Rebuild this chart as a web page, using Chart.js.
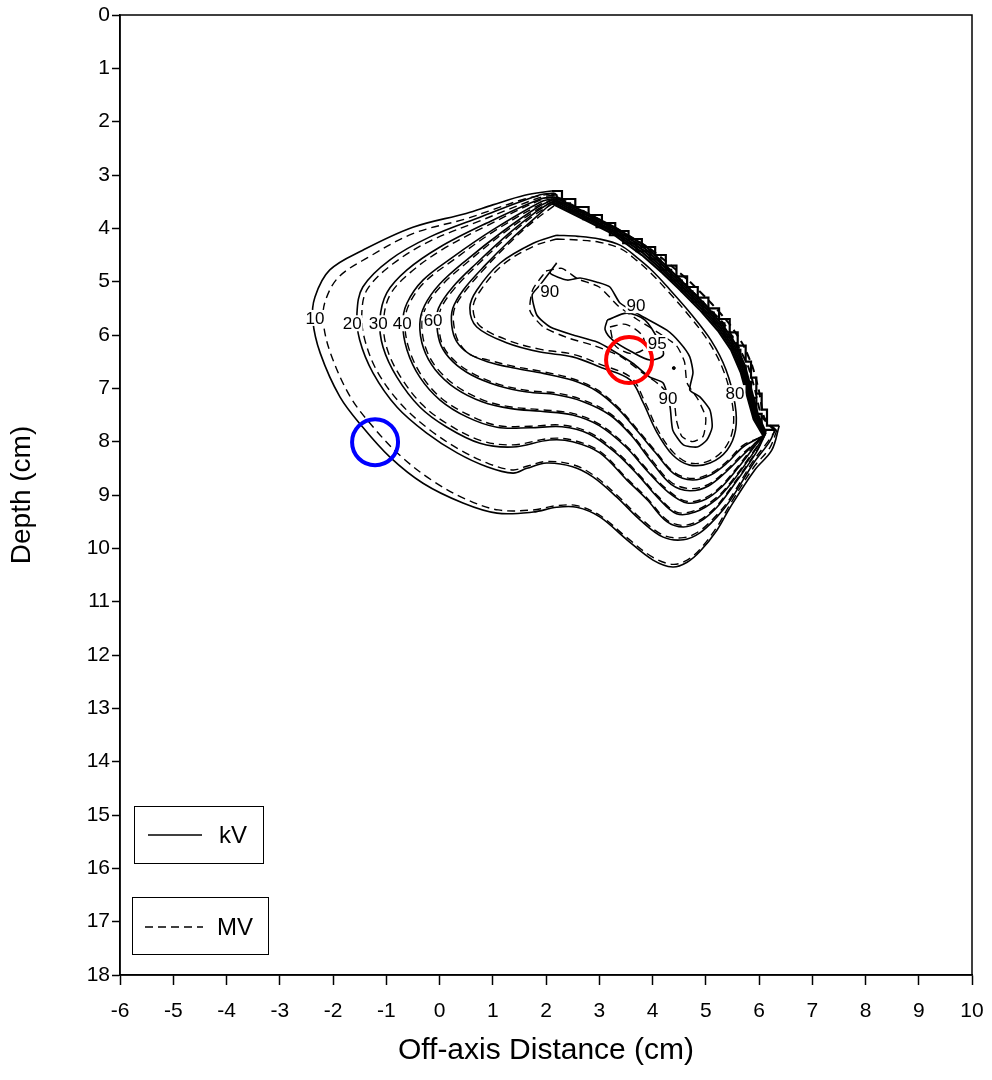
<!DOCTYPE html>
<html>
<head>
<meta charset="utf-8">
<title>Depth dose contours</title>
<script src="https://cdn.jsdelivr.net/npm/chart.js@4.4.0/dist/chart.umd.min.js"></script>
<style>
  html, body { margin: 0; background: #fff; overflow: hidden; }
  #chart { display: block; margin-top: -12px; }
</style>
</head>
<body>
<canvas id="chart" width="999" height="1092"></canvas>
<script>
// axis ticks
let xTicks = [-6, -5, -4, -3, -2, -1, 0, 1, 2, 3, 4, 5, 6, 7, 8, 9, 10];
let yTicks = [0, 1, 2, 3, 4, 5, 6, 7, 8, 9, 10, 11, 12, 13, 14, 15, 16, 17, 18];

// kV isodose lines, [off-axis cm, depth cm]
// outer part: from the top junction round the left side to the lower right corner
let kv10 = [[2.1,3.3],[1.6,3.38],[1.0,3.56],[0.5,3.72],[-0.5,3.98],[-1.44,4.41],[-2.06,4.78],[-2.34,5.29],[-2.38,5.72],[-2.24,6.34],[-1.87,7.16],[-1.44,7.73],[-0.93,8.29],[-0.31,8.78],[0.44,9.15],[1.08,9.34],[1.76,9.32],[2.2,9.23],[2.58,9.23],[3.01,9.41],[3.52,9.84],[4.01,10.22],[4.38,10.35],[4.65,10.26],[4.89,10.06],[5.21,9.66],[5.46,9.23],[5.92,8.53],[6.24,8.16],[6.38,7.7]];
let kv20 = [[2.15,3.34],[1.89,3.37],[0.76,3.79],[-0.18,4.16],[-0.93,4.59],[-1.44,5.1],[-1.55,5.59],[-1.5,6.09],[-1.25,6.71],[-0.8,7.35],[-0.24,7.84],[0.33,8.21],[0.89,8.47],[1.38,8.59],[1.64,8.5],[2.01,8.4],[2.5,8.47],[2.88,8.66],[3.33,9.04],[3.77,9.47],[4.2,9.79],[4.58,9.84],[4.89,9.71],[5.21,9.41],[5.46,9.1],[5.9,8.4],[6.2,8.0],[6.3,7.78]];
let kv30 = [[2.14,3.41],[1.89,3.45],[0.89,3.9],[0.01,4.35],[-0.61,4.78],[-0.99,5.21],[-1.12,5.72],[-1.06,6.23],[-0.8,6.79],[-0.37,7.35],[0.14,7.73],[0.76,8.03],[1.38,8.1],[2.07,7.97],[2.5,8.0],[3.01,8.21],[3.52,8.72],[3.9,9.09],[4.27,9.5],[4.58,9.6],[4.89,9.5],[5.21,9.23],[5.5,8.85],[5.95,8.2],[6.13,7.83]];
let kv40 = [[2.13,3.44],[1.89,3.51],[1.0,4.03],[0.25,4.54],[-0.31,4.97],[-0.61,5.4],[-0.69,5.78],[-0.61,6.28],[-0.37,6.79],[0.01,7.22],[0.52,7.54],[1.08,7.73],[1.7,7.74],[2.3,7.72],[2.8,7.85],[3.3,8.2],[3.75,8.65],[4.1,9.05],[4.45,9.35],[4.8,9.32],[5.2,9.08],[5.5,8.75],[5.9,8.2],[6.12,7.85]];
let kv50 = [[2.12,3.47],[1.85,3.6],[1.2,4.05],[0.5,4.6],[0.0,5.05],[-0.28,5.45],[-0.37,5.8],[-0.3,6.25],[-0.08,6.65],[0.3,7.0],[0.8,7.25],[1.35,7.38],[1.9,7.43],[2.5,7.5],[3.0,7.7],[3.5,8.1],[3.9,8.55],[4.3,8.95],[4.65,9.15],[5.0,9.08],[5.3,8.85],[5.6,8.5],[5.95,8.05],[6.11,7.86]];
let kv60 = [[2.11,3.5],[1.8,3.7],[1.3,4.1],[0.7,4.65],[0.25,5.1],[-0.02,5.5],[-0.05,5.82],[0.03,6.2],[0.25,6.5],[0.6,6.75],[1.1,6.95],[1.65,7.07],[2.2,7.12],[2.7,7.25],[3.2,7.5],[3.6,7.88],[4.0,8.4],[4.35,8.8],[4.7,8.92],[5.05,8.83],[5.4,8.55],[5.7,8.25],[6.1,7.87]];
let kv70 = [[2.1,3.53],[1.8,3.8],[1.35,4.2],[0.85,4.7],[0.45,5.15],[0.25,5.5],[0.23,5.82],[0.32,6.12],[0.55,6.35],[0.9,6.5],[1.4,6.62],[1.95,6.72],[2.5,6.85],[2.95,7.05],[3.35,7.38],[3.7,7.78],[4.05,8.2],[4.4,8.6],[4.75,8.72],[5.1,8.62],[5.4,8.4],[5.7,8.1],[6.08,7.89]];

// upper right edge (field edge) where the lines crowd, from lower right corner back to the top
let band10 = [[6.38,7.7],[6.15,7.7],[6.15,7.4],[6.05,7.4],[6.05,7.1],[5.95,7.1],[5.95,6.8],[5.85,6.8],[5.85,6.5],[5.75,6.5],[5.75,6.2],[5.6,6.2],[5.6,5.95],[5.45,5.95],[5.45,5.7],[5.25,5.7],[5.25,5.5],[5.05,5.5],[5.05,5.3],[4.85,5.3],[4.85,5.1],[4.65,5.1],[4.65,4.9],[4.45,4.9],[4.45,4.7],[4.25,4.7],[4.25,4.5],[4.05,4.5],[4.05,4.35],[3.8,4.35],[3.8,4.2],[3.55,4.2],[3.55,4.05],[3.3,4.05],[3.3,3.9],[3.05,3.9],[3.05,3.75],[2.8,3.75],[2.8,3.6],[2.55,3.6],[2.55,3.45],[2.3,3.45],[2.3,3.3],[2.1,3.3]];
let band20 = [[6.3,7.78],[6.05,7.78],[6.05,7.48],[5.95,7.48],[5.95,7.18],[5.85,7.18],[5.85,6.88],[5.75,6.88],[5.75,6.58],[5.65,6.58],[5.65,6.28],[5.5,6.28],[5.5,6.03],[5.35,6.03],[5.35,5.78],[5.15,5.78],[5.15,5.58],[4.95,5.58],[4.95,5.38],[4.75,5.38],[4.75,5.18],[4.55,5.18],[4.55,4.98],[4.35,4.98],[4.35,4.78],[4.15,4.78],[4.15,4.58],[3.95,4.58],[3.95,4.43],[3.7,4.43],[3.7,4.28],[3.45,4.28],[3.45,4.13],[3.2,4.13],[3.2,3.98],[2.95,3.98],[2.95,3.83],[2.7,3.83],[2.7,3.68],[2.45,3.68],[2.45,3.53],[2.2,3.53],[2.2,3.38],[2.15,3.34]];
let band30 = [[6.13,7.83],[5.98,7.49],[5.86,7.04],[5.74,6.59],[5.56,6.17],[5.31,5.8],[4.96,5.4],[4.56,5.0],[4.27,4.72],[3.88,4.34],[3.29,3.98],[2.69,3.68],[2.14,3.41]];
let band40 = [[6.12,7.85],[5.96,7.51],[5.84,7.07],[5.72,6.62],[5.54,6.2],[5.29,5.83],[4.94,5.43],[4.54,5.03],[4.25,4.75],[3.86,4.38],[3.28,4.01],[2.68,3.71],[2.13,3.44]];
let band50 = [[6.11,7.86],[5.94,7.53],[5.82,7.09],[5.7,6.65],[5.52,6.23],[5.27,5.86],[4.92,5.46],[4.52,5.06],[4.23,4.78],[3.84,4.42],[3.27,4.04],[2.67,3.74],[2.12,3.47]];
let band60 = [[6.1,7.87],[5.92,7.56],[5.8,7.12],[5.68,6.68],[5.5,6.26],[5.25,5.89],[4.9,5.49],[4.5,5.09],[4.21,4.81],[3.82,4.46],[3.26,4.07],[2.66,3.77],[2.11,3.5]];
let band70 = [[6.08,7.89],[5.9,7.58],[5.78,7.15],[5.66,6.71],[5.48,6.29],[5.23,5.92],[4.88,5.52],[4.48,5.12],[4.19,4.84],[3.8,4.5],[3.25,4.1],[2.65,3.8],[2.1,3.53]];

// closed kV loops
let kv80 = [[2.2,4.13],[2.6,4.15],[3.0,4.2],[3.4,4.32],[3.71,4.55],[4.0,4.8],[4.3,5.12],[4.72,5.6],[5.1,6.1],[5.38,6.65],[5.55,7.3],[5.56,7.78],[5.4,8.16],[5.08,8.4],[4.7,8.44],[4.38,8.25],[4.08,7.82],[3.82,7.26],[3.58,6.84],[3.01,6.6],[2.5,6.41],[1.89,6.32],[1.27,6.15],[0.7,5.85],[0.57,5.49],[0.7,5.16],[1.14,4.65],[1.76,4.28],[2.2,4.13]];
let kv90 = [[2.2,4.65],[2.08,4.84],[2.4,4.97],[2.64,4.93],[2.96,5.01],[3.2,5.1],[3.39,5.4],[3.77,5.63],[4.27,5.91],[4.52,6.15],[4.7,6.41],[4.76,6.71],[4.7,7.03],[4.89,7.16],[5.08,7.41],[5.12,7.73],[5.02,7.97],[4.84,8.1],[4.58,8.06],[4.38,7.78],[4.33,7.35],[4.2,6.9],[3.95,6.79],[3.63,6.53],[3.15,6.23],[2.96,6.13],[2.51,6.0],[2.08,5.85],[1.83,5.63],[1.74,5.25],[1.89,5.06],[2.2,4.65]];
let kv95 = [[3.15,5.72],[3.52,5.59],[3.86,5.72],[4.14,6.15],[4.2,6.38],[3.95,6.47],[3.6,6.31],[3.26,6.1],[3.11,5.9],[3.15,5.72]];
let kv95dot = [[4.4,6.62]];

// MV isodose lines
let mv10 = [[2.1,3.35],[1.6,3.45],[1.0,3.65],[0.5,3.82],[-0.5,4.1],[-1.35,4.55],[-1.9,4.92],[-2.15,5.38],[-2.18,5.78],[-2.04,6.36],[-1.68,7.15],[-1.25,7.72],[-0.75,8.25],[-0.15,8.72],[0.5,9.08],[1.1,9.28],[1.76,9.28],[2.2,9.2],[2.58,9.2],[3.01,9.38],[3.52,9.8],[4.01,10.17],[4.38,10.3],[4.65,10.22],[4.89,10.02],[5.21,9.6],[5.46,9.17],[5.9,8.48],[6.2,8.12],[6.33,7.8]];
let mvBand10 = [[6.33,7.8],[6.1,7.55],[6.0,7.05],[5.88,6.6],[5.7,6.18],[5.45,5.8],[5.1,5.4],[4.7,5.0],[4.35,4.7],[3.95,4.38],[3.35,4.02],[2.75,3.7],[2.1,3.35]];
let mv20 = [[2.15,3.38],[1.89,3.42],[0.76,3.86],[-0.18,4.24],[-0.88,4.67],[-1.36,5.15],[-1.46,5.62],[-1.4,6.1],[-1.16,6.7],[-0.72,7.3],[-0.18,7.78],[0.38,8.15],[0.92,8.41],[1.38,8.53],[1.64,8.46],[2.01,8.37],[2.5,8.43],[2.88,8.62],[3.33,9.0],[3.77,9.43],[4.2,9.75],[4.58,9.8],[4.89,9.67],[5.21,9.37],[5.46,9.06],[5.88,8.38],[6.18,7.98],[6.3,7.8]];
let mvBand20 = [[6.3,7.8],[6.05,7.52],[5.93,7.05],[5.8,6.6],[5.6,6.2],[5.35,5.8],[4.98,5.42],[4.62,5.05],[4.3,4.76],[3.9,4.42],[3.3,4.0],[2.7,3.7],[2.15,3.38]];
let mv30 = [[2.15,3.41],[1.89,3.47],[0.89,3.95],[0.05,4.4],[-0.55,4.83],[-0.93,5.25],[-1.05,5.74],[-0.99,6.24],[-0.74,6.77],[-0.32,7.31],[0.17,7.68],[0.78,7.98],[1.38,8.06],[2.07,7.94],[2.5,7.97],[3.01,8.18],[3.52,8.69],[3.9,9.06],[4.27,9.47],[4.58,9.57],[4.89,9.47],[5.21,9.2],[5.5,8.82],[5.95,8.18],[6.13,7.84]];
let mv40 = [[2.15,3.45],[1.89,3.55],[1.0,4.07],[0.28,4.58],[-0.27,5.0],[-0.57,5.42],[-0.65,5.78],[-0.57,6.27],[-0.33,6.77],[0.04,7.19],[0.55,7.5],[1.1,7.7],[1.7,7.71],[2.3,7.69],[2.8,7.82],[3.3,8.17],[3.75,8.62],[4.1,9.02],[4.45,9.32],[4.8,9.29],[5.2,9.05],[5.5,8.72],[5.9,8.18],[6.12,7.86]];
let mv50 = [[2.15,3.49],[1.85,3.64],[1.2,4.09],[0.53,4.63],[0.03,5.08],[-0.25,5.47],[-0.33,5.8],[-0.26,6.24],[-0.05,6.62],[0.32,6.96],[0.82,7.22],[1.35,7.35],[1.9,7.4],[2.5,7.47],[3.0,7.67],[3.5,8.07],[3.9,8.52],[4.3,8.92],[4.65,9.12],[5.0,9.05],[5.3,8.82],[5.6,8.47],[5.95,8.02],[6.11,7.87]];
let mv60 = [[2.15,3.53],[1.8,3.74],[1.3,4.14],[0.72,4.68],[0.28,5.13],[0.02,5.52],[-0.01,5.83],[0.06,6.19],[0.28,6.48],[0.62,6.72],[1.1,6.92],[1.65,7.04],[2.2,7.09],[2.7,7.22],[3.2,7.47],[3.6,7.85],[4.0,8.36],[4.35,8.76],[4.7,8.88],[5.05,8.8],[5.4,8.52],[5.7,8.22],[6.1,7.88]];
let mv70 = [[2.15,3.58],[1.8,3.84],[1.35,4.24],[0.87,4.73],[0.48,5.18],[0.28,5.51],[0.27,5.82],[0.36,6.13],[0.58,6.37],[0.92,6.47],[1.4,6.59],[1.95,6.69],[2.5,6.82],[2.95,7.02],[3.35,7.35],[3.7,7.75],[4.05,8.17],[4.4,8.57],[4.75,8.69],[5.1,8.59],[5.4,8.37],[5.7,8.07],[6.08,7.9]];
let mv80 = [[2.2,4.2],[2.6,4.22],[3.0,4.26],[3.4,4.38],[3.7,4.6],[3.98,4.85],[4.28,5.17],[4.68,5.63],[5.05,6.12],[5.33,6.66],[5.5,7.3],[5.51,7.76],[5.36,8.12],[5.06,8.36],[4.7,8.4],[4.4,8.21],[4.11,7.8],[3.85,7.24],[3.6,6.8],[3.02,6.55],[2.5,6.36],[1.9,6.27],[1.29,6.1],[0.75,5.82],[0.63,5.49],[0.76,5.18],[1.18,4.69],[1.78,4.33],[2.2,4.2]];
let mv90 = [[2.0,4.8],[2.3,4.75],[2.6,4.95],[3.0,5.1],[3.35,5.45],[3.7,5.7],[4.1,5.95],[4.45,6.2],[4.6,6.5],[4.65,6.9],[4.85,7.2],[5.0,7.55],[4.95,7.9],[4.75,8.0],[4.55,7.9],[4.45,7.6],[4.4,7.25],[4.15,6.95],[3.8,6.7],[3.4,6.4],[2.9,6.2],[2.4,6.05],[1.95,5.85],[1.7,5.55],[1.75,5.15],[2.0,4.8]];
let mv95 = [[3.2,5.85],[3.5,5.8],[3.8,6.0],[3.85,6.25],[3.6,6.35],[3.3,6.2],[3.2,5.85]];

// contour labels
let labelText = ['10', '20', '30', '40', '60', '90', '90', '95', '90', '80'];
let labelX = [-2.34, -1.64, -1.15, -0.7, -0.12, 2.07, 3.69, 4.09, 4.29, 5.55];
let labelY = [5.68, 5.78, 5.78, 5.78, 5.72, 5.19, 5.44, 6.15, 7.18, 7.09];

// circled spots
let redSpot = [[3.56, 6.47]];
let blueSpot = [[-1.21, 8.01]];

function pts(arr){
    return arr.map(p => ({x: p[0], y: p[1]}));
}

function line(arr, dashed, tension, width){
    return {
        data: pts(arr),
        showLine: true,
        borderColor: '#000',
        borderWidth: width || (dashed ? 1.4 : 1.6),
        borderDash: dashed ? [8, 5] : [],
        pointRadius: 0,
        tension: tension,
        fill: false
    };
}

function spot(arr, color){
    return {
        data: pts(arr),
        showLine: false,
        pointStyle: 'circle',
        pointRadius: 23,
        pointHoverRadius: 23,
        pointBorderWidth: 4,
        pointBorderColor: color,
        pointBackgroundColor: 'rgba(0,0,0,0)'
    };
}

let datasets = [];
datasets.push(spot(redSpot, '#ff0000'));
datasets.push(spot(blueSpot, '#0000ff'));

// kV solid
let kvOuter = [kv10, kv20, kv30, kv40, kv50, kv60, kv70];
let kvBand = [band10, band20, band30, band40, band50, band60, band70];
for(let i = 0; i < kvOuter.length; i++){
    datasets.push(line(kvOuter[i], false, 0.35));
    datasets.push(line(kvBand[i], false, 0, 2.2));
}
datasets.push(line(kv80, false, 0.35));
datasets.push(line(kv90, false, 0.2));
datasets.push(line(kv95, false, 0.3));
datasets.push({
    data: pts(kv95dot), showLine: false, pointRadius: 1.5,
    pointBackgroundColor: '#000', pointBorderColor: '#000'
});

// MV dashed
let mvOuter = [mv10, mv20, mv30, mv40, mv50, mv60, mv70];
for(let i = 0; i < mvOuter.length; i++){
    datasets.push(line(mvOuter[i], true, 0.35));
}
datasets.push(line(mvBand10, true, 0.2, 2));
datasets.push(line(mvBand20, true, 0.2, 2));
datasets.push(line(mv80, true, 0.35));
datasets.push(line(mv90, true, 0.2));
datasets.push(line(mv95, true, 0.3));

let fontFamily = 'Arial, "Liberation Sans", sans-serif';

// frame round the plot area
let framePlugin = {
    id: 'frame',
    afterDraw(chart){
        let a = chart.chartArea;
        let ctx = chart.ctx;
        ctx.save();
        ctx.strokeStyle = '#000';
        ctx.lineWidth = 1.5;
        ctx.strokeRect(a.left, a.top, a.right - a.left, a.bottom - a.top);
        ctx.restore();
    }
};

// contour value labels on a white patch
let labelPlugin = {
    id: 'contourLabels',
    afterDatasetsDraw(chart){
        let ctx = chart.ctx;
        let xs = chart.scales.x;
        let ys = chart.scales.y;
        ctx.save();
        ctx.font = '17px ' + fontFamily;
        ctx.textAlign = 'center';
        ctx.textBaseline = 'middle';
        for(let i = 0; i < labelText.length; i++){
            let px = xs.getPixelForValue(labelX[i]);
            let py = ys.getPixelForValue(labelY[i]);
            let w = ctx.measureText(labelText[i]).width;
            ctx.fillStyle = '#fff';
            ctx.fillRect(px - w / 2 - 1, py - 8, w + 2, 16);
            ctx.fillStyle = '#000';
            ctx.fillText(labelText[i], px, py + 1);
        }
        ctx.restore();
    }
};

// the two boxed legend entries in the lower left
let legendPlugin = {
    id: 'boxLegend',
    afterDraw(chart){
        let a = chart.chartArea;
        let ctx = chart.ctx;
        ctx.save();
        ctx.strokeStyle = '#000';
        ctx.lineWidth = 1;
        ctx.strokeRect(a.left + 14.5, a.bottom - 168.5, 129, 57);
        ctx.strokeRect(a.left + 12.5, a.bottom - 77.5, 136, 57);

        ctx.lineWidth = 1.5;
        ctx.beginPath();
        ctx.moveTo(a.left + 28, a.bottom - 140);
        ctx.lineTo(a.left + 82, a.bottom - 140);
        ctx.stroke();

        ctx.setLineDash([8, 5]);
        ctx.beginPath();
        ctx.moveTo(a.left + 25, a.bottom - 48);
        ctx.lineTo(a.left + 83, a.bottom - 48);
        ctx.stroke();
        ctx.setLineDash([]);

        ctx.fillStyle = '#000';
        ctx.font = '24px ' + fontFamily;
        ctx.textBaseline = 'middle';
        ctx.fillText('kV', a.left + 99, a.bottom - 139);
        ctx.fillText('MV', a.left + 97, a.bottom - 47);
        ctx.restore();
    }
};

let ctx = document.getElementById('chart');
new Chart(ctx, {
    type: 'scatter',
    data: { datasets: datasets },
    options: {
        responsive: false,
        animation: false,
        layout: { padding: { top: 15, right: 20, bottom: 9, left: 0 } },
        plugins: {
            legend: { display: false },
            tooltip: { enabled: false }
        },
        scales: {
            x: {
                type: 'linear',
                min: xTicks[0],
                max: xTicks[xTicks.length - 1],
                afterBuildTicks: (scale) => { scale.ticks = xTicks.map(v => ({value: v})); },
                afterFit: (scale) => { scale.height = 96; },
                ticks: {
                    color: '#000',
                    padding: 14,
                    maxRotation: 0,
                    font: { size: 21, family: fontFamily }
                },
                grid: { drawOnChartArea: false, tickLength: 10, color: '#000', tickWidth: 1.5 },
                border: { color: '#000', width: 1.5 },
                title: {
                    display: true,
                    text: 'Off-axis Distance (cm)',
                    color: '#000',
                    font: { size: 30, family: fontFamily },
                    padding: { top: 4, bottom: 2 }
                }
            },
            y: {
                type: 'linear',
                reverse: true,
                min: yTicks[0],
                max: yTicks[yTicks.length - 1],
                afterBuildTicks: (scale) => { scale.ticks = yTicks.map(v => ({value: v})); },
                afterFit: (scale) => { scale.width = 120; },
                ticks: {
                    color: '#000',
                    padding: 2,
                    font: { size: 21, family: fontFamily }
                },
                grid: { drawOnChartArea: false, tickLength: 8, color: '#000', tickWidth: 1.5 },
                border: { color: '#000', width: 1.5 },
                title: {
                    display: true,
                    text: 'Depth (cm)',
                    color: '#000',
                    font: { size: 28, family: fontFamily },
                    padding: { top: 5, bottom: 4 }
                }
            }
        }
    },
    plugins: [framePlugin, labelPlugin, legendPlugin]
});
</script>
</body>
</html>
